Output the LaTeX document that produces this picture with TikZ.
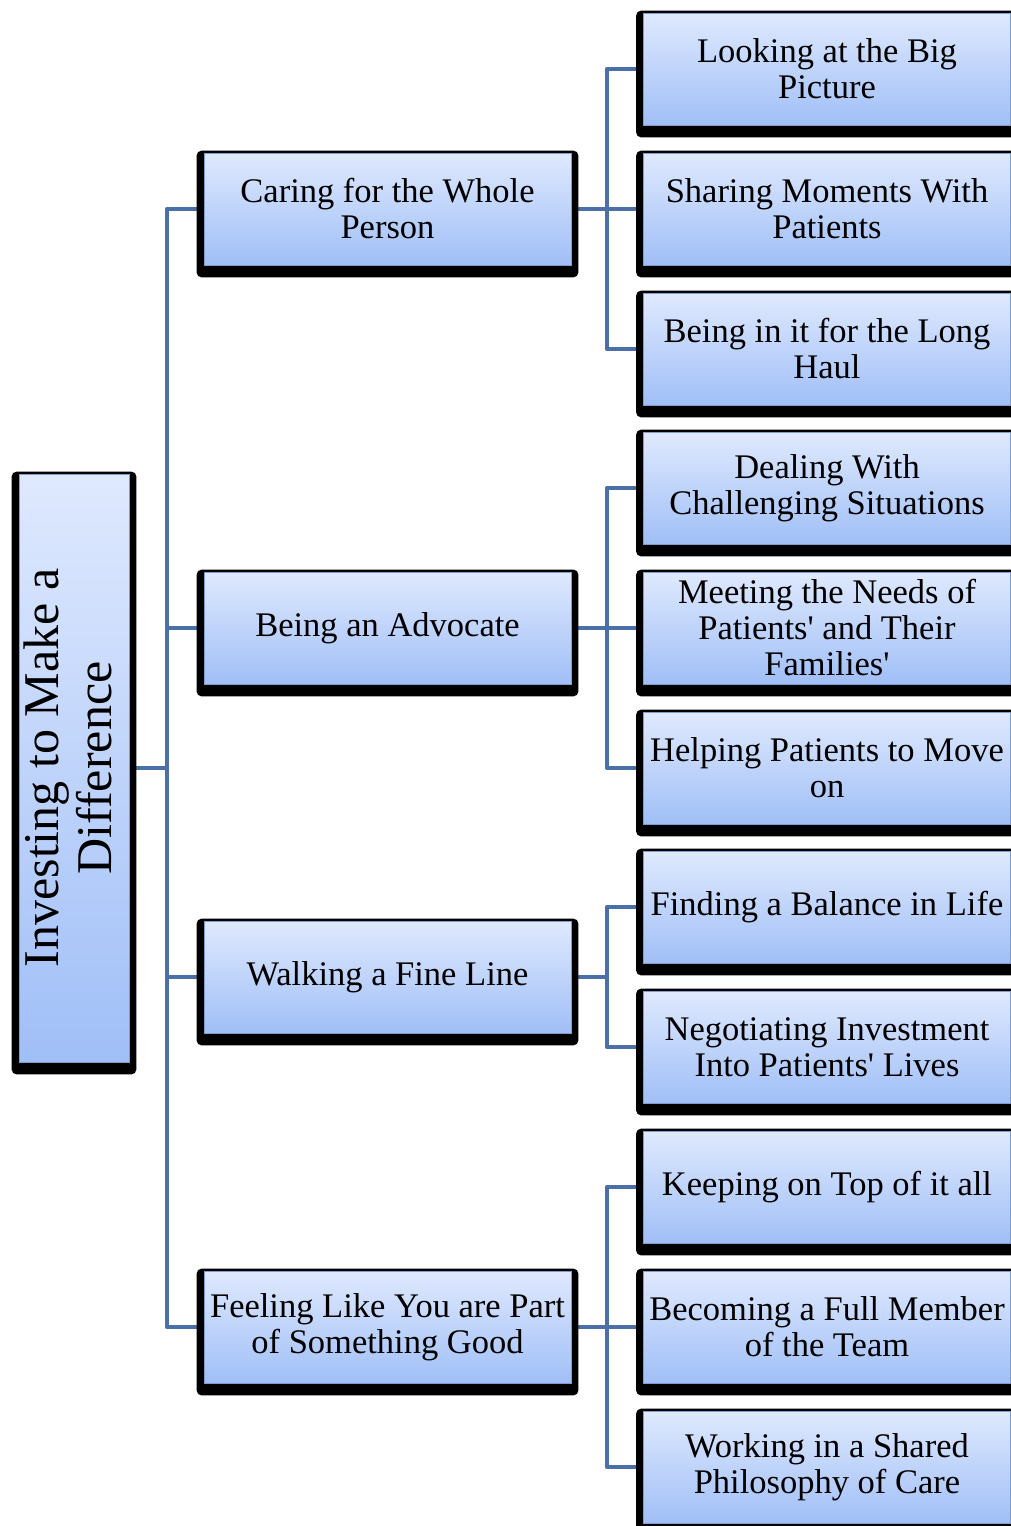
\documentclass[tikz,border=0pt]{standalone}
\usepackage{fontspec}
\setmainfont{Liberation Serif}[Ligatures=TeXOff]
\definecolor{boxtop}{HTML}{DFE9FE}
\definecolor{boxbot}{HTML}{A0BFF7}
\definecolor{boxline}{HTML}{7F9CCB}
\definecolor{linkc}{HTML}{4A70A7}
\pgfdeclarelayer{lines}
\pgfdeclarelayer{shade}
\pgfsetlayers{lines,shade,main}
\begin{document}
\begin{tikzpicture}[x=1pt,y=1pt,
  box/.style={draw=boxline, line width=0.8pt, top color=boxtop, bottom color=boxbot,
    minimum width=367pt, minimum height=112pt, inner sep=0pt, align=center,
    font=\fontsize{34.5}{36}\selectfont},
  rootbox/.style={box, minimum width=110pt, minimum height=588pt, font=\fontsize{50}{53}\selectfont},
  link/.style={draw=linkc, line width=4.5pt, line join=round}]
\useasboundingbox (0,0) rectangle (1010,-1526);

\node[rootbox] (root) at (74,-768) {\rotatebox{90}{\begin{tabular}{@{}c@{}}Investing to Make a\\Difference\end{tabular}}};

\node[box] (c1) at (387.5,-209) {Caring for the Whole\\Person};
\node[box] (c2) at (387.5,-628) {Being an Advocate};
\node[box] (c3) at (387.5,-977) {Walking a Fine Line};
\node[box] (c4) at (387.5,-1327) {Feeling Like You are Part\\of Something Good};

\node[box] (g1) at (827,-69) {Looking at the Big\\Picture};
\node[box] (g2) at (827,-209) {Sharing Moments With\\Patients};
\node[box] (g3) at (827,-349) {Being in it for the Long\\Haul};
\node[box] (g4) at (827,-488) {Dealing With\\Challenging Situations};
\node[box] (g5) at (827,-628) {Meeting the Needs of\\Patients' and Their\\Families'};
\node[box] (g6) at (827,-768) {Helping Patients to Move\\on};
\node[box] (g7) at (827,-907) {Finding a Balance in Life};
\node[box] (g8) at (827,-1047) {Negotiating Investment\\Into Patients' Lives};
\node[box] (g9) at (827,-1187) {Keeping on Top of it all};
\node[box] (g10) at (827,-1327) {Becoming a Full Member\\of the Team};
\node[box] (g11) at (827,-1467) {Working in a Shared\\Philosophy of Care};

\begin{pgfonlayer}{shade}
\foreach \n in {root,c1,c2,c3,c4,g1,g2,g3,g4,g5,g6,g7,g8,g9,g10,g11}
  \fill[black, rounded corners=5pt] ([xshift=-7pt,yshift=2pt]\n.north west) rectangle ([xshift=7pt,yshift=-12pt]\n.south east);
\end{pgfonlayer}

\coordinate (t0) at (167,-768);
\coordinate (t1) at (607,-768);
\begin{pgfonlayer}{lines}
\draw[link] (root.east) -- (t0);
\draw[link] (c1.west) -- (c1.west -| t0) -- (c4.west -| t0) -- (c4.west);
\draw[link] (c2.west) -- (c2.west -| t0);
\draw[link] (c3.west) -- (c3.west -| t0);

\draw[link] (c1.east) -- (c1.east -| t1);
\draw[link] (g1.west) -- (g1.west -| t1) -- (g3.west -| t1) -- (g3.west);
\draw[link] (g2.west) -- (g2.west -| t1);

\draw[link] (c2.east) -- (c2.east -| t1);
\draw[link] (g4.west) -- (g4.west -| t1) -- (g6.west -| t1) -- (g6.west);
\draw[link] (g5.west) -- (g5.west -| t1);

\draw[link] (c3.east) -- (c3.east -| t1);
\draw[link] (g7.west) -- (g7.west -| t1) -- (g8.west -| t1) -- (g8.west);

\draw[link] (c4.east) -- (c4.east -| t1);
\draw[link] (g9.west) -- (g9.west -| t1) -- (g11.west -| t1) -- (g11.west);
\draw[link] (g10.west) -- (g10.west -| t1);
\end{pgfonlayer}
\end{tikzpicture}
\end{document}
